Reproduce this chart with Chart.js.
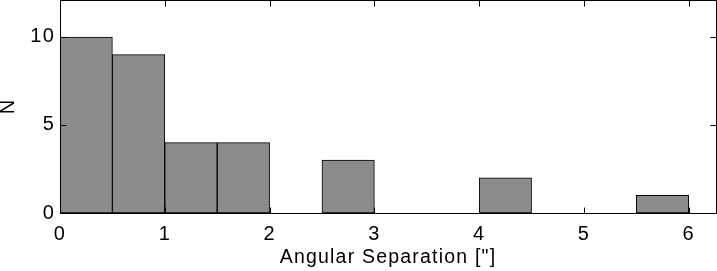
<!DOCTYPE html>
<html>
<head>
<meta charset="utf-8">
<script src="https://cdn.jsdelivr.net/npm/chart.js@4/dist/chart.umd.min.js"></script>
<style>
html,body{margin:0;padding:0;background:#fff;}
#wrap{width:717px;height:271px;}
</style>
</head>
<body>
<div id="wrap"><canvas id="c" width="717" height="271"></canvas></div>
<script>
const binCenters = [0.25, 0.75, 1.25, 1.75, 2.25, 2.75, 3.25, 3.75, 4.25, 4.75, 5.25, 5.75];
const counts     = [10, 9, 4, 4, 0, 3, 0, 0, 2, 0, 0, 1];
const xTickValues = [0, 1, 2, 3, 4, 5, 6];
const yTickValues = [0, 5, 10];
const xTitle = 'Angular Separation ["]';
const yTitle = 'N';

const FONT = '"Liberation Sans", Arial, sans-serif';
const SPACING = '1.2px';

const spacingPlugin = {
  id: 'spacing',
  beforeLayout(chart) { chart.ctx.letterSpacing = SPACING; },
  beforeDraw(chart) { chart.ctx.letterSpacing = SPACING; }
};

const framePlugin = {
  id: 'frame',
  afterDatasetsDraw(chart) {
    const {ctx, chartArea: a, scales} = chart;
    ctx.save();
    ctx.strokeStyle = '#000';
    ctx.lineWidth = 1;
    const L = 6;
    const l = Math.round(a.left) + 0.5, r = Math.round(a.right) + 0.5;
    const t = Math.round(a.top) + 0.5, b = Math.round(a.bottom) + 0.5;
    ctx.beginPath();
    scales.x.ticks.forEach(tk => {
      const px = Math.round(scales.x.getPixelForValue(tk.value)) + 0.5;
      ctx.moveTo(px, b); ctx.lineTo(px, b - L);
      ctx.moveTo(px, t); ctx.lineTo(px, t + L);
    });
    scales.y.ticks.forEach(tk => {
      const py = Math.round(scales.y.getPixelForValue(tk.value)) + 0.5;
      ctx.moveTo(l, py); ctx.lineTo(l + L, py);
      ctx.moveTo(r, py); ctx.lineTo(r - L, py);
    });
    ctx.stroke();
    ctx.strokeRect(l, t, r - l, b - t);
    ctx.restore();
  }
};

new Chart(document.getElementById('c'), {
  type: 'bar',
  data: {
    datasets: [{
      data: binCenters.map((x, i) => ({x: x, y: counts[i]})),
      backgroundColor: '#8c8c8c',
      borderColor: '#000',
      borderWidth: 1,
      barPercentage: 1,
      categoryPercentage: 1,
      borderSkipped: false
    }]
  },
  options: {
    responsive: false,
    animation: false,
    devicePixelRatio: 1,
    layout: {padding: {top: 0, right: 1, left: 0, bottom: 0}},
    plugins: {legend: {display: false}, tooltip: {enabled: false}},
    scales: {
      x: {
        type: 'linear',
        offset: false,
        min: 0, max: 6.26,
        grid: {display: false, offset: false, drawTicks: false},
        border: {display: false},
        afterBuildTicks: s => { s.ticks = xTickValues.map(v => ({value: v})); },
        afterFit: s => { s.height = 58; s.paddingLeft = 0; s.paddingRight = 0; },
        ticks: {color: '#000', font: {family: FONT, size: 20}, padding: 9, maxRotation: 0,
                callback: v => String(v)},
        title: {display: true, text: xTitle, color: '#000', font: {family: FONT, size: 19.5, lineHeight: 1.2}, padding: {top: 0, bottom: 2}}
      },
      y: {
        min: 0, max: 12.1,
        grid: {display: false, drawTicks: false},
        border: {display: false},
        afterBuildTicks: s => { s.ticks = yTickValues.map(v => ({value: v})); },
        afterFit: s => { s.width = 60; s.paddingTop = 0; s.paddingBottom = 0; },
        ticks: {color: '#000', font: {family: FONT, size: 20}, padding: 5,
                callback: v => String(v)},
        title: {display: true, text: yTitle, color: '#000', font: {family: FONT, size: 20, lineHeight: 1}, padding: {top: -2, bottom: 0}}
      }
    }
  },
  plugins: [spacingPlugin, framePlugin]
});
</script>
</body>
</html>
